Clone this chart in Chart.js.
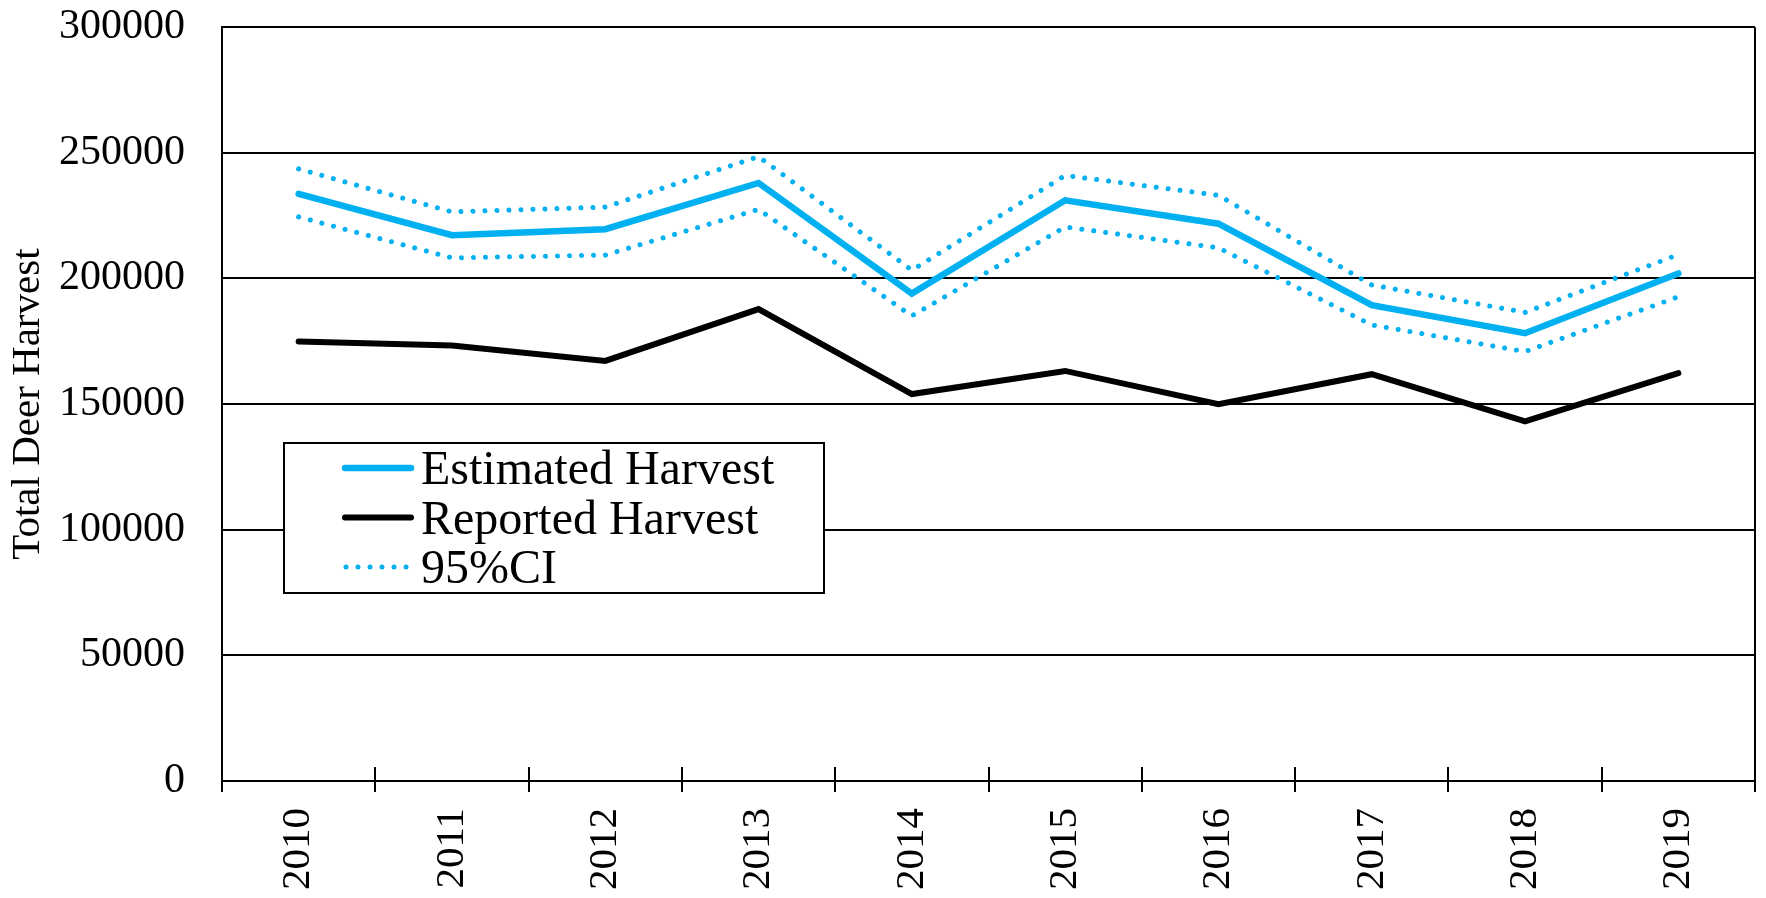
<!DOCTYPE html>
<html>
<head>
<meta charset="utf-8">
<script src="https://cdn.jsdelivr.net/npm/chart.js@4.4.1/dist/chart.umd.min.js"></script>
<style>
  html, body { margin: 0; padding: 0; background: #fff; }
  #wrap { width: 1766px; height: 898px; }
</style>
</head>
<body>
<div id="wrap"><canvas id="harvestChart" width="1766" height="898"></canvas></div>
<script>
// Datos
const years = ["2010", "2011", "2012", "2013", "2014", "2015", "2016", "2017", "2018", "2019"];
const estimatedHarvest = [233700, 217200, 219600, 238000, 194000, 231100, 221800, 189400, 178200, 202000];
const reportedHarvest = [174900, 173300, 167200, 187800, 154000, 163200, 150000, 161900, 143100, 162300];
const upperCI = [243600, 226500, 228400, 248500, 203300, 241000, 233100, 197400, 186500, 209500];
const lowerCI = [224500, 208200, 209300, 227500, 185100, 220500, 212200, 181500, 170900, 192700];
const yTickValues = [0, 50000, 100000, 150000, 200000, 250000, 300000];

const FONT = "'Liberation Serif', 'Times New Roman', serif";
const BLUE = "#00b0f0";
const DOTS = [0.01, 12];

// Marco derecho, marcas del eje X y leyenda dentro del área
const frameAndLegend = {
  id: "frameAndLegend",
  afterDraw(chart) {
    const { ctx, chartArea: a, scales: { x } } = chart;
    ctx.save();
    ctx.strokeStyle = "#000";
    ctx.lineWidth = 2;

    ctx.beginPath();
    ctx.moveTo(a.right, a.top);
    ctx.lineTo(a.right, a.bottom + 11);
    ctx.stroke();

    for (let i = 0; i <= years.length; i++) {
      const px = Math.round(x.getPixelForValue(i - 0.5));
      ctx.beginPath();
      ctx.moveTo(px, a.bottom - 14);
      ctx.lineTo(px, a.bottom + 11);
      ctx.stroke();
    }

    // leyenda
    const box = { left: 284, top: 443, right: 824, bottom: 593 };
    ctx.fillStyle = "#fff";
    ctx.fillRect(box.left, box.top, box.right - box.left, box.bottom - box.top);
    ctx.strokeRect(box.left, box.top, box.right - box.left, box.bottom - box.top);

    const seen = new Set();
    const items = chart.data.datasets.filter((ds) => {
      if (seen.has(ds.label)) return false;
      seen.add(ds.label);
      return true;
    });

    ctx.font = `48px ${FONT}`;
    ctx.textBaseline = "alphabetic";
    items.forEach((ds, i) => {
      const y = 468 + i * 49.5;
      ctx.beginPath();
      ctx.strokeStyle = ds.borderColor;
      ctx.lineWidth = ds.borderWidth;
      ctx.lineCap = "round";
      ctx.setLineDash(ds.borderDash || []);
      ctx.moveTo(ds.borderDash ? 346 : 345, y);
      ctx.lineTo(411, y);
      ctx.stroke();
      ctx.setLineDash([]);
      ctx.fillStyle = "#000";
      ctx.fillText(ds.label, 421, y + 16);
    });
    ctx.restore();
  },
};

new Chart(document.getElementById("harvestChart"), {
  type: "line",
  data: {
    labels: years,
    datasets: [
      {
        label: "Estimated Harvest",
        data: estimatedHarvest,
        borderColor: BLUE,
        borderWidth: 6.5,
        borderCapStyle: "round",
        borderJoinStyle: "miter",
        pointRadius: 0,
        tension: 0,
      },
      {
        label: "Reported Harvest",
        data: reportedHarvest,
        borderColor: "#000",
        borderWidth: 6,
        borderCapStyle: "round",
        borderJoinStyle: "miter",
        pointRadius: 0,
        tension: 0,
      },
      {
        label: "95%CI",
        data: upperCI,
        borderColor: BLUE,
        borderWidth: 5,
        borderDash: DOTS,
        borderCapStyle: "round",
        pointRadius: 0,
        tension: 0,
      },
      {
        label: "95%CI",
        data: lowerCI,
        borderColor: BLUE,
        borderWidth: 5,
        borderDash: DOTS,
        borderCapStyle: "round",
        pointRadius: 0,
        tension: 0,
      },
    ],
  },
  options: {
    responsive: false,
    animation: false,
    layout: { padding: { top: 0, right: 11, left: 0, bottom: 0 } },
    plugins: {
      legend: { display: false },
      tooltip: { enabled: false },
    },
    scales: {
      x: {
        offset: true,
        grid: { display: false, drawTicks: false },
        border: { display: true, color: "#000", width: 2 },
        ticks: {
          autoSkip: false,
          minRotation: 90,
          maxRotation: 90,
          padding: 27,
          color: "#000",
          font: { family: FONT, size: 41 },
        },
        afterFit: (scale) => {
          scale.height = 117;
        },
      },
      y: {
        min: yTickValues[0],
        max: yTickValues[yTickValues.length - 1],
        afterBuildTicks: (scale) => {
          scale.ticks = yTickValues.map((v) => ({ value: v }));
        },
        grid: {
          color: "#000",
          lineWidth: 2,
          drawTicks: true,
          tickLength: 35,
          tickColor: "rgba(0,0,0,0)",
        },
        border: { color: "#000", width: 2 },
        ticks: {
          padding: 2,
          color: "#000",
          font: { family: FONT, size: 42 },
          callback: (v) => String(v),
        },
        title: {
          display: true,
          text: "Total Deer Harvest",
          color: "#000",
          font: { family: FONT, size: 41 },
          padding: { top: 4, bottom: 0 },
        },
        afterFit: (scale) => {
          scale.width = 222;
        },
      },
    },
  },
  plugins: [frameAndLegend],
});
</script>
</body>
</html>
